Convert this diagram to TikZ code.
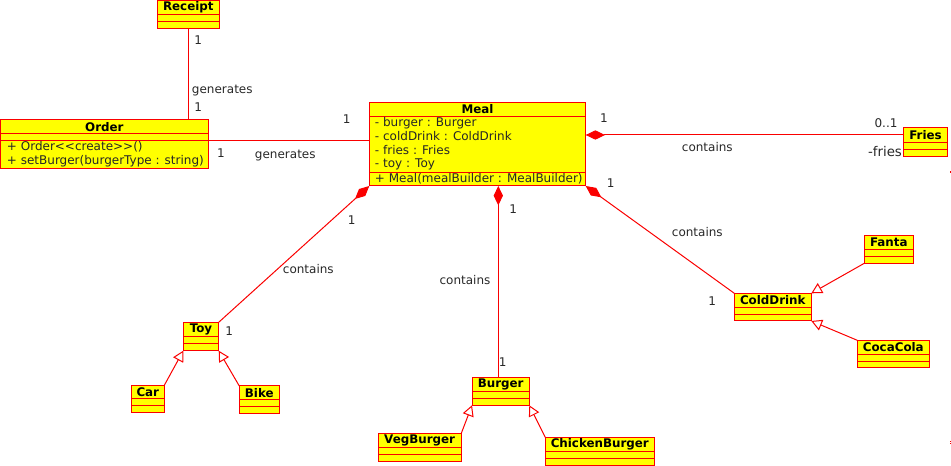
\documentclass[tikz,border=0pt]{standalone}
\usepackage{fontspec}
\setmainfont{DejaVu Sans}
\usetikzlibrary{arrows.meta,calc}
\definecolor{umlred}{RGB}{250,0,0}
\definecolor{umlyellow}{RGB}{255,255,0}
\definecolor{labelgray}{RGB}{40,40,40}
\newcommand\umlbox[8]{%
  \pgfmathsetmacro\umlbw{(#4-#2)*0.75}%
  \pgfmathsetmacro\umlbh{(#5-#3)*0.75}%
  \node[classbox, minimum width=\umlbw pt, minimum height=\umlbh pt] (#1) at ({(#2+#4)/2},{(#3+#5)/2}) {};
  \node[titletext] (#1-t) at ({(#2+#4)/2},{(#3+#6)/2}) {#8};
  \draw[classline] (#1.west |- 0,#6) -- (#1.east |- 0,#6);
  \draw[classline] (#1.west |- 0,#7) -- (#1.east |- 0,#7);
}
\begin{document}
\begin{tikzpicture}[x=0.75pt,y=-0.75pt,
  classbox/.style={draw=umlred, fill=umlyellow, line width=0.75pt, inner sep=0pt, outer sep=0pt},
  classline/.style={draw=umlred, line width=0.75pt},
  titletext/.style={font=\fontsize{8.9}{10}\selectfont\bfseries, text=black, inner sep=0pt},
  membertext/.style={font=\fontsize{9}{10}\selectfont, text=black!85, inner sep=0pt, anchor=west},
  lbl/.style={font=\fontsize{9}{10}\selectfont, text=labelgray, inner sep=0pt},
  assoc/.style={draw=umlred, line width=0.75pt},
  comp/.style={draw=umlred, line width=0.75pt, arrows={Diamond[length=14.5pt,width=7pt,fill=umlred]-}},
  gen/.style={draw=umlred, line width=0.75pt, arrows={-Triangle[open,length=8pt,width=8.5pt,fill=white]}}
]
\useasboundingbox (0,0) rectangle (951,466);

% classes
\umlbox{Receipt}{157.3}{0.7}{219.3}{28.7}{14.7}{21.7}{Receipt}
\umlbox{Order}{0.5}{119.3}{208.3}{168.3}{134}{140.7}{Order}
\node[membertext] (o1) at (6.7,147) {+ Order<{}<create>{}>()};
\node[membertext] (o2) at (6.7,161.5) {+ setBurger(burgerType : string)};

\umlbox{Meal}{369.3}{102.3}{585.7}{186}{116.3}{172.3}{Meal}
\node[membertext] (m1) at (374.7,122.7) {- burger : Burger};
\node[membertext] (m2) at (374.7,136.5) {- coldDrink : ColdDrink};
\node[membertext] (m3) at (374.7,150.3) {- fries : Fries};
\node[membertext] (m4) at (374.7,164.3) {- toy : Toy};
\node[membertext] (m5) at (374.7,179) {+ Meal(mealBuilder : MealBuilder)};

\umlbox{Fries}{903.3}{127.7}{947.7}{156.7}{142.3}{149.7}{Fries}
\umlbox{Toy}{183.3}{322.3}{218.7}{350.7}{336.3}{343.7}{Toy}
\umlbox{Car}{131.3}{385.3}{164.3}{412.3}{398.7}{405.7}{Car}
\umlbox{Bike}{239.3}{386}{279.3}{413.3}{399.3}{406.3}{Bike}
\umlbox{Burger}{472}{377.3}{529.3}{405.3}{391.3}{398.3}{Burger}
\umlbox{VegBurger}{378}{433.3}{461.3}{461.3}{447.3}{454.3}{VegBurger}
\umlbox{ChickenBurger}{545.3}{437.3}{654.3}{465.7}{451.3}{458.3}{ChickenBurger}
\umlbox{Fanta}{864.3}{235.3}{913.3}{263.3}{249.3}{256.3}{Fanta}
\umlbox{ColdDrink}{734.3}{293.3}{811.3}{321}{307.3}{314.3}{ColdDrink}
\umlbox{CocaCola}{857.3}{340.3}{929.3}{368}{354.3}{361.3}{CocaCola}

% associations
\draw[assoc] (Receipt.south) -- (Receipt.south |- Order.north);
\draw[assoc] (Order.east |- 0,140.3) -- (Meal.west |- 0,140.3);

% compositions
\draw[comp] (Meal.east |- 0,135) -- (Fries.west |- 0,135);
\draw[comp] (Meal.south west) -- (Toy.north east);
\draw[comp] (Meal.south -| 498.3,0) -- (Burger.north -| 498.3,0);
\draw[comp] (Meal.south east) -- (ColdDrink.north west);

% generalizations
\draw[gen] (Car.north east) -- (Toy.south west);
\draw[gen] (Bike.north west) -- (Toy.south east);
\draw[gen] (VegBurger.north east) -- (Burger.south west);
\draw[gen] (ChickenBurger.north west) -- (Burger.south east);
\draw[gen] (Fanta.south west) -- (ColdDrink.north east);
\draw[gen] (CocaCola.north west) -- (ColdDrink.south east);

% labels
\node[lbl] (l1) at (198.3,40) {1};
\node[lbl] (l2) at (222.3,90.7) {generates};
\node[lbl] (l3) at (198.3,106.7) {1};
\node[lbl] (l4) at (221,152.7) {1};
\node[lbl] (l5) at (285.3,155.7) {generates};
\node[lbl] (l6) at (346.7,119) {1};
\node[lbl] (l7) at (604,118.3) {1};
\node[lbl] (l8) at (707.3,146.7) {contains};
\node[lbl] (l9) at (886,122.7) {0..1};
\node[lbl, font=\fontsize{10}{12}\selectfont] (l10) at (885,151.3) {-fries};
\node[lbl] (l11) at (351.7,220) {1};
\node[lbl] (l12) at (308.3,269) {contains};
\node[lbl] (l13) at (229.3,330.7) {1};
\node[lbl] (l14) at (513.3,209) {1};
\node[lbl] (l15) at (465,280) {contains};
\node[lbl] (l16) at (502.7,361.7) {1};
\node[lbl] (l17) at (610.7,182.7) {1};
\node[lbl] (l18) at (697.3,231.7) {contains};
\node[lbl] (l19) at (712.3,300.7) {1};

% tiny edge marks
\fill[umlred] (949.6,171.5) rectangle (951,172.7);
\fill[umlred] (949.6,441.2) rectangle (951,442.2);
\fill[umlred] (949.6,443.4) rectangle (951,444.4);
\end{tikzpicture}
\end{document}
